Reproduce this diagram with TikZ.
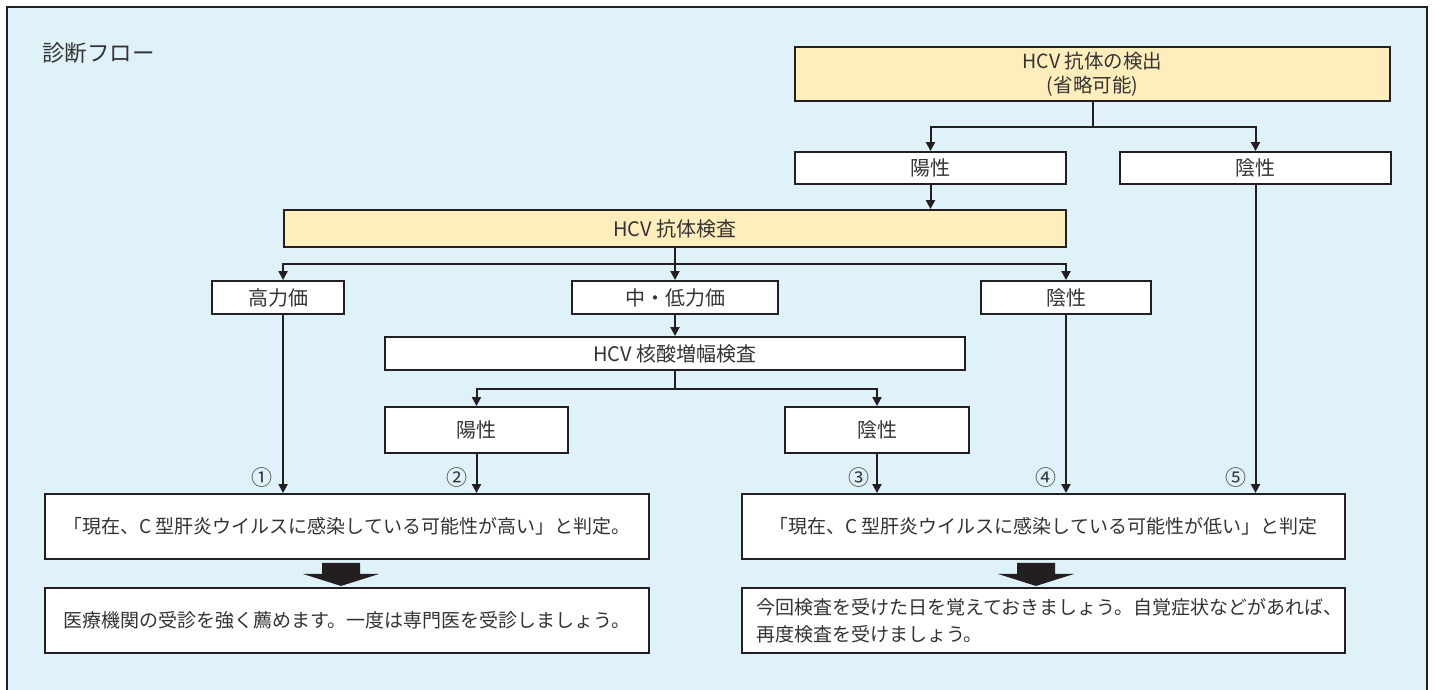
\documentclass[tikz,border=0pt]{standalone}
\usepackage{fontspec}
\setmainfont{Noto Sans CJK JP}
\usetikzlibrary{arrows.meta,calc}
\definecolor{bgblue}{HTML}{DFF2FA}
\definecolor{hlyellow}{HTML}{FFEDBB}
\definecolor{ink}{HTML}{231F20}
\definecolor{txt}{HTML}{333333}
\begin{document}
\begin{tikzpicture}[x=1pt,y=-1pt,
  box/.style={draw=ink,line width=1.9pt,fill=white,inner sep=0pt,text=txt,font=\fontsize{19}{27}\selectfont,align=center},
  ybox/.style={box,fill=hlyellow},
  arr/.style={draw=ink,line width=2pt,-{Triangle[width=9pt,length=9pt]}},
  con/.style={draw=ink,line width=2pt},
  num/.style={text=txt,font=\fontsize{21}{21}\selectfont,inner sep=0pt},
  blockarrow/.style={fill=ink}]
\useasboundingbox (0,0) rectangle (1435,689);
\fill[white] (0,0) rectangle (1435,689);
\draw[draw=ink,fill=bgblue,line width=1.8pt] (7,7) rectangle (1427,700);

\node[anchor=west,text=txt,font=\fontsize{22.5}{26}\selectfont,inner sep=0pt] (title) at (42,53) {診断フロー};

% boxes
\node[ybox,minimum width=595,minimum height=54,font=\fontsize{19.5}{24}\selectfont] (top) at (1092.5,74) {HCV 抗体の検出\\(省略可能)};
\node[box,minimum width=271,minimum height=32,font=\fontsize{20}{24}\selectfont] (pos1) at (930.5,168) {陽性};
\node[box,minimum width=271,minimum height=32,font=\fontsize{20}{24}\selectfont] (neg1) at (1255.5,168) {陰性};
\node[ybox,minimum width=782,minimum height=37,font=\fontsize{20}{24}\selectfont] (ab) at (675,228.5) {HCV 抗体検査};
\node[box,minimum width=132,minimum height=33,font=\fontsize{20}{24}\selectfont] (high) at (278,297.5) {高力価};
\node[box,minimum width=206,minimum height=33,font=\fontsize{20}{24}\selectfont] (mid) at (675,297.5) {中・低力価};
\node[box,minimum width=170,minimum height=33,font=\fontsize{20}{24}\selectfont] (neg2) at (1066,297.5) {陰性};
\node[box,minimum width=580,minimum height=33,font=\fontsize{20}{24}\selectfont] (nat) at (675,353.5) {HCV 核酸増幅検査};
\node[box,minimum width=183,minimum height=46,font=\fontsize{20}{24}\selectfont] (pos3) at (476.5,430) {陽性};
\node[box,minimum width=184,minimum height=46,font=\fontsize{20}{24}\selectfont] (neg3) at (877,430) {陰性};
\node[box,minimum width=604,minimum height=65] (jl) at (347,526.5) {「現在、C 型肝炎ウイルスに感染している可能性が高い」と判定。};
\node[box,minimum width=603,minimum height=65] (jr) at (1043.5,526.5) {「現在、C 型肝炎ウイルスに感染している可能性が低い」と判定};
\node[box,minimum width=604,minimum height=65] (al) at (347,620.5) {医療機関の受診を強く薦めます。一度は専門医を受診しましょう。};
\node[box,minimum width=603,minimum height=65,text width=575,inner xsep=14,align=left] (ar) at (1043.5,620.5) {今回検査を受けた日を覚えておきましょう。自覚症状などがあれば、\\再度検査を受けましょう。};

% connectors
\coordinate (b1) at ($(top.south)+(0,25)$);
\draw[con] (top.south) -- (b1);
\draw[arr] (b1) -| (pos1.north);
\draw[arr] (b1) -| (neg1.north);
\draw[arr] (pos1.south) -- (pos1.south |- ab.north);
\draw[arr] (neg1.south) -- (neg1.south |- jr.north);

\coordinate (b2) at ($(ab.south)+(0,16)$);
\draw[con] (ab.south) -- (b2);
\draw[arr] (b2) -| (ab.west |- high.north);
\draw[arr] (b2) -- (mid.north);
\draw[arr] (b2) -| (neg2.north);

\draw[arr] (mid.south) -- (nat.north);
\coordinate (b3) at ($(nat.south)+(0,18)$);
\draw[con] (nat.south) -- (b3);
\draw[arr] (b3) -| (pos3.north);
\draw[arr] (b3) -| (neg3.north);

\draw[arr] (ab.west |- high.south) -- (ab.west |- jl.north);
\draw[arr] (pos3.south) -- (pos3.south |- jl.north);
\draw[arr] (neg3.south) -- (neg3.south |- jr.north);
\draw[arr] (neg2.south) -- (neg2.south |- jr.north);

% circled numbers
\node[num] (n1) at ($(ab.west |- jl.north)+(-21,-16)$) {①};
\node[num] (n2) at ($(pos3.south |- jl.north)+(-20,-16)$) {②};
\node[num] (n3) at ($(neg3.south |- jr.north)+(-18,-16)$) {③};
\node[num] (n4) at ($(neg2.south |- jr.north)+(-20,-16)$) {④};
\node[num] (n5) at ($(neg1.south |- jr.north)+(-20,-16)$) {⑤};

% block arrows
\fill[blockarrow] ($(jl.south)+(-25,3)$) -- ++(38,0) -- ++(0,11) -- ++(19,0) -- ($(jl.south)+(-6,26)$) -- ($(jl.south)+(-44,14)$) -- ++(19,0) -- cycle;
\fill[blockarrow] ($(jr.south)+(-26.5,3)$) -- ++(38,0) -- ++(0,11) -- ++(19,0) -- ($(jr.south)+(-7.5,26)$) -- ($(jr.south)+(-45.5,14)$) -- ++(19,0) -- cycle;
\end{tikzpicture}
\end{document}
